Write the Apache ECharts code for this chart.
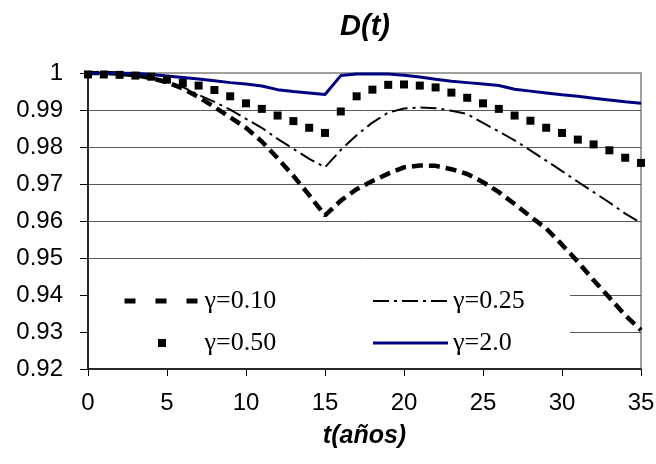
<!DOCTYPE html>
<html>
<head>
<meta charset="utf-8">
<script src="https://cdn.jsdelivr.net/npm/echarts@6/dist/echarts.min.js"></script>
<style>html,body{margin:0;padding:0;background:#fff}#c{width:656px;height:464px}</style>
</head>
<body>
<div id="c"></div>
<script>
const years = [0,1,2,3,4,5,6,7,8,9,10,11,12,13,14,15,16,17,18,19,20,21,22,23,24,25,26,27,28,29,30,31,32,33,34,35];
const seriesNames = ['γ=0.10', 'γ=0.25', 'γ=0.50', 'γ=2.0'];
const g010 = [1.0000,1.0000,0.9998,0.9994,0.9986,0.9975,0.9958,0.9935,0.9908,0.9880,0.9852,0.9815,0.9770,0.9722,0.9670,0.9615,0.9655,0.9686,0.9708,0.9728,0.9745,0.9750,0.9749,0.9740,0.9727,0.9705,0.9678,0.9646,0.9612,0.9580,0.9536,0.9490,0.9440,0.9393,0.9345,0.9305];
const g025 = [1.0000,1.0000,0.9998,0.9995,0.9988,0.9977,0.9962,0.9941,0.9922,0.9901,0.9876,0.9852,0.9822,0.9795,0.9768,0.9745,0.9792,0.9832,0.9866,0.9893,0.9904,0.9907,0.9905,0.9898,0.9889,0.9865,0.9842,0.9818,0.9791,0.9763,0.9735,0.9706,0.9678,0.9650,0.9620,0.9595];
const g050 = [0.9996,0.9996,0.9995,0.9993,0.9990,0.9982,0.9973,0.9966,0.9954,0.9937,0.9918,0.9903,0.9885,0.9870,0.9852,0.9838,0.9896,0.9937,0.9955,0.9968,0.9969,0.9966,0.9961,0.9947,0.9933,0.9918,0.9903,0.9885,0.9871,0.9852,0.9838,0.9820,0.9807,0.9791,0.9771,0.9757];
const g200 = [1.0000,1.0000,1.0000,0.9999,0.9996,0.9992,0.9988,0.9984,0.9979,0.9974,0.9970,0.9965,0.9955,0.9950,0.9946,0.9942,0.9993,0.9997,0.9997,0.9997,0.9994,0.9989,0.9983,0.9978,0.9974,0.9970,0.9966,0.9956,0.9951,0.9946,0.9941,0.9937,0.9932,0.9927,0.9922,0.9918];

const pairs = arr => years.map((t, i) => [t, arr[i]]);
const sans = 'Liberation Sans, Arial, sans-serif';
const serif = 'Liberation Serif, Times New Roman, serif';

const chart = echarts.init(document.getElementById('c'), null, {renderer: 'canvas'});
chart.setOption({
  animation: false,
  backgroundColor: '#fff',
  title: {
    text: 'D(t)', left: 360, top: 7, textAlign: 'center',
    textStyle: {fontFamily: sans, fontStyle: 'italic', fontWeight: 'bold', fontSize: 29, color: '#000'}
  },
  grid: {left: 88, right: 15, top: 73, bottom: 95, show: true, borderColor: '#a0a0a0', borderWidth: 2, outerBoundsMode: 'none'},
  legend: {
    orient: 'vertical', left: 89, top: 266, height: 80,
    padding: [20, 37, 8, 33],
    backgroundColor: '#fff',
    itemWidth: 75, itemHeight: 10, itemGap: 12,
    textStyle: {fontFamily: serif, fontSize: 26, color: '#000', lineHeight: 30, width: 154},
    data: [
      {name: seriesNames[0], lineStyle: {type: [11, 20], width: 5}, itemStyle: {opacity: 0}},
      {name: seriesNames[2]},
      {name: seriesNames[1], lineStyle: {width: 2}, itemStyle: {opacity: 0}, textStyle: {width: 80}},
      {name: seriesNames[3], lineStyle: {width: 3}, itemStyle: {opacity: 0}, textStyle: {width: 80}}
    ]
  },
  xAxis: {
    type: 'value', min: 0, max: 35, interval: 5,
    name: 't(años)', nameLocation: 'middle', nameGap: 55,
    nameTextStyle: {fontFamily: sans, fontStyle: 'italic', fontWeight: 'bold', fontSize: 25, color: '#000'},
    axisLine: {show: true, lineStyle: {color: '#000', width: 1.5}},
    axisTick: {show: true, inside: false, length: 7, lineStyle: {color: '#000', width: 1}},
    axisLabel: {fontFamily: sans, fontSize: 24, color: '#000', margin: 22},
    splitLine: {show: false}
  },
  yAxis: {
    type: 'value', min: 0.92, max: 1, interval: 0.01,
    axisLine: {show: true, lineStyle: {color: '#000', width: 1.5}},
    axisTick: {show: true, inside: false, length: 8, lineStyle: {color: '#000', width: 1}},
    axisLabel: {fontFamily: sans, fontSize: 24, color: '#000', margin: 25},
    splitLine: {show: true, showMaxLine: false, showMinLine: false, lineStyle: {color: '#5a5a5a', width: 1}}
  },
  series: [
    {name: seriesNames[0], type: 'line', data: pairs(g010), symbol: 'none',
     lineStyle: {color: '#000', width: 4.5, type: [11, 6]}, itemStyle: {color: '#000'}},
    {name: seriesNames[1], type: 'line', data: pairs(g025), symbol: 'none',
     lineStyle: {color: '#000', width: 2, type: [16, 5, 3, 5]}, itemStyle: {color: '#000'}},
    {name: seriesNames[2], type: 'line', data: pairs(g050), symbol: 'rect', symbolSize: 8, showSymbol: true,
     lineStyle: {color: '#000', width: 0, opacity: 0}, itemStyle: {color: '#000'}},
    {name: seriesNames[3], type: 'line', data: pairs(g200), symbol: 'none',
     lineStyle: {color: '#000080', width: 3}, itemStyle: {color: '#000080'}}
  ]
});
</script>
</body>
</html>
